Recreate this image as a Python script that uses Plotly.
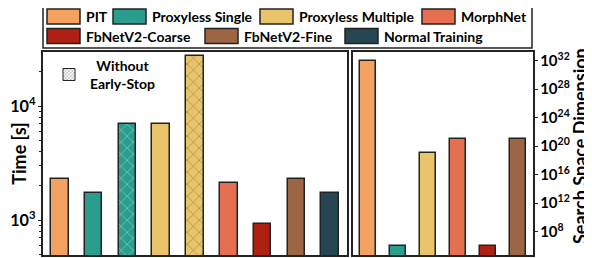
import plotly.graph_objects as go

# ---------------- data ----------------
time_categories = ["PIT", "Proxyless Single", "Proxyless Single (no early-stop)",
                   "Proxyless Multiple", "Proxyless Multiple (no early-stop)",
                   "MorphNet", "FbNetV2-Coarse", "FbNetV2-Fine", "Normal Training"]
time_values = [2275, 1715, 6900, 6900, 27600, 2125, 917, 2275, 1715]
time_no_early_stop = [False, False, True, False, True, False, False, False, False]

space_categories = ["PIT", "Proxyless Single", "Proxyless Multiple",
                    "MorphNet", "FbNetV2-Coarse", "FbNetV2-Fine"]
space_values = [1e32, 1e6, 1e19, 1e21, 1e6, 1e21]

legend_names = ["PIT", "Proxyless Single", "Proxyless Multiple", "MorphNet",
                "FbNetV2-Coarse", "FbNetV2-Fine", "Normal Training"]

# ---------------- styles ----------------
colors = {
    "PIT": "#F4A261",
    "Proxyless Single": "#2A9D8F",
    "Proxyless Multiple": "#E9C46A",
    "MorphNet": "#E76F51",
    "FbNetV2-Coarse": "#AE2012",
    "FbNetV2-Fine": "#9C6644",
    "Normal Training": "#264653",
}

def base_name(c):
    return c.replace(" (no early-stop)", "")

W, H = 592, 258
OFF = 8  # page body margin
ML, MR, MT, MB = 35, 67, 44, 11
PW, PH = W - ML - MR, H - MT - MB

def px(x):  # screen pixel -> paper
    return (x - OFF - ML) / PW

def py(y):
    return (H - MB - (y - OFF)) / PH

FONT = "Lato"
LINE = "#222"

fig = go.Figure()

fig.add_trace(go.Bar(
    x=time_categories, y=time_values, xaxis="x", yaxis="y", width=0.52,
    marker=dict(
        color=[colors[base_name(c)] for c in time_categories],
        line=dict(color=LINE, width=1.5),
        pattern=dict(shape=["x" if h else "" for h in time_no_early_stop],
                     fgcolor="#1a1a1a", size=8.5, solidity=0.14, fillmode="overlay"),
    ),
    showlegend=False,
))

fig.add_trace(go.Bar(
    x=space_categories, y=space_values, xaxis="x2", yaxis="y2", width=0.51,
    marker=dict(color=[colors[c] for c in space_categories],
                line=dict(color=LINE, width=1.5)),
    showlegend=False,
))

# hatch legend entry
fig.add_trace(go.Bar(
    x=[None], y=[None], xaxis="x", yaxis="y", name=" ",
    marker=dict(color="white", line=dict(color=LINE, width=1),
                pattern=dict(shape="x", fgcolor="#666", bgcolor="white",
                             size=3, solidity=0.45)),
    legend="legend2", showlegend=True,
))

# ---------------- custom legend ----------------
legend_pos = {
    "PIT": (47, 0), "Proxyless Single": (113, 0), "Proxyless Multiple": (260, 0),
    "MorphNet": (422, 0), "FbNetV2-Coarse": (47, 1), "FbNetV2-Fine": (205, 1),
    "Normal Training": (345, 1),
}
rows_y = [(9, 24), (28.5, 43.5)]
shapes = [dict(type="rect", xref="paper", yref="paper",
               x0=px(43), x1=px(532), y0=py(48), y1=py(1),
               line=dict(color=LINE, width=1.5), fillcolor="white", layer="above")]
annotations = []
for name in legend_names:
    x0, r = legend_pos[name]
    y0, y1 = rows_y[r]
    shapes.append(dict(type="rect", xref="paper", yref="paper",
                       x0=px(x0), x1=px(x0 + 33), y0=py(y1), y1=py(y0),
                       fillcolor=colors[name], line=dict(color=LINE, width=1.5),
                       layer="above"))
    annotations.append(dict(xref="paper", yref="paper", x=px(x0 + 37),
                            y=py((y0 + y1) / 2), text=name, showarrow=False,
                            xanchor="left", yanchor="middle",
                            font=dict(family=FONT, size=14, color="black", weight="bold")))

annotations.append(dict(xref="paper", yref="paper", x=px(122), y=py(74),
                        text="Without<br>Early-Stop", showarrow=False,
                        xanchor="center", yanchor="middle", align="center",
                        font=dict(family=FONT, size=14, color="black", weight="bold")))

# right axis title (rotated), placed beside the tick labels
annotations.append(dict(xref="paper", yref="paper", x=px(580), y=py(146),
                        text="Search Space Dimension", showarrow=False, textangle=-90,
                        xanchor="center", yanchor="middle",
                        font=dict(family=FONT, size=18, color="black", weight="bold")))

axis_common = dict(showline=True, mirror=True, linecolor=LINE, linewidth=1.5,
                   showgrid=False, zeroline=False, automargin=False)

fig.update_layout(
    width=W, height=H,
    margin=dict(l=ML, r=MR, t=MT, b=MB, autoexpand=False),
    paper_bgcolor="white", plot_bgcolor="white",
    font=dict(family=FONT, color="black", weight="bold"),
    bargap=0,
    xaxis=dict(domain=[0, px(347)], showticklabels=False, ticks="",
               range=[-0.5, 8.5], **axis_common),
    yaxis=dict(type="log", range=[2.693, 4.474], dtick=1, exponentformat="power",
               ticks="outside", ticklen=3, tickcolor=LINE,
               minor=dict(ticks="outside", ticklen=2, tickcolor=LINE, showgrid=False),
               tickfont=dict(size=13, family=FONT, weight="bold"),
               title=dict(text="Time [s]", standoff=4,
                          font=dict(size=18, family=FONT, weight="bold")),
               **axis_common),
    xaxis2=dict(domain=[px(353), 1], anchor="y2", showticklabels=False, ticks="",
                range=[-0.5, 5.5], **axis_common),
    yaxis2=dict(type="log", range=[4.73, 33.2], tick0=0, dtick=4,
                exponentformat="power", anchor="x2", side="right",
                ticks="outside", ticklen=3, tickcolor=LINE,
                tickfont=dict(size=12, family=FONT, weight="bold"),
                **axis_common),
    legend2=dict(x=px(49), y=py(60), xanchor="left", yanchor="top",
                 bgcolor="rgba(0,0,0,0)", itemwidth=30,
                 font=dict(size=12, family=FONT), tracegroupgap=0),
    shapes=shapes,
    annotations=annotations,
)

fig.write_html("out.html")
